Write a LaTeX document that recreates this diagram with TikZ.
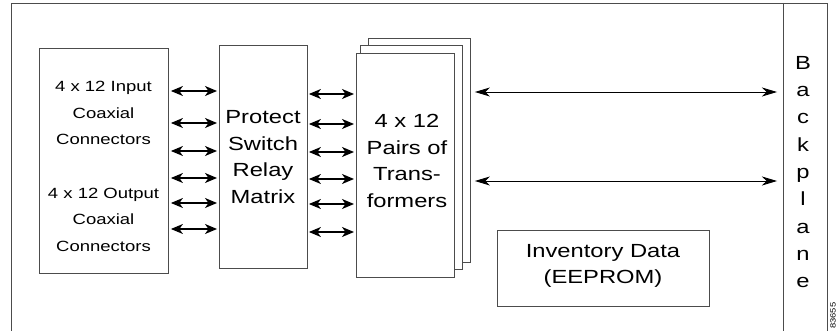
\documentclass[tikz,border=0pt]{standalone}
\usepackage{fontspec}
\setmainfont[FakeStretch=1.25]{Liberation Sans}
\usetikzlibrary{arrows.meta}
\begin{document}
\begin{tikzpicture}[x=1pt,y=-1pt,
  box/.style={draw=black!70,line width=0.9pt,inner sep=0pt,anchor=north west},
  frameline/.style={draw=black!70,line width=0.9pt},
  biarrow/.style={line width=1.2pt,{Stealth[length=12pt,width=10pt,inset=3.5pt]}-{Stealth[length=12pt,width=10pt,inset=3.5pt]}},
  longarrow/.style={line width=0.9pt,{Stealth[length=15pt,width=9pt,inset=4.5pt]}-{Stealth[length=15pt,width=9pt,inset=4.5pt]}},
  smalltxt/.style={font=\fontsize{14.8}{26.5}\selectfont,align=center,inner sep=0pt},
  bigtxt/.style={font=\fontsize{19}{26.5}\selectfont,align=center,inner sep=0pt}]
\useasboundingbox (0,0) rectangle (837,331);

% enclosing card outline and backplane strip
\draw[frameline] (11,335) -- (11,3) -- (827,3) -- (827,335);
\draw[frameline] (783,3) -- (783,335);

% connector block
\node[box,minimum width=129pt,minimum height=225pt] (conn) at (39,48) {};
\node[smalltxt] (inlbl) at (103.5,113) {4 x 12 Input\\Coaxial\\Connectors};
\node[smalltxt] (outlbl) at (103.5,219.5) {4 x 12 Output\\Coaxial\\Connectors};

% relay matrix
\node[box,minimum width=88pt,minimum height=223pt] (relay) at (219,45) {};
\node[bigtxt] (relaylbl) at (263,157) {Protect\\Switch\\Relay\\Matrix};

% stacked transformer cards
\node[box,fill=white,minimum width=102pt,minimum height=224pt] (tr3) at (368,38) {};
\node[box,fill=white,minimum width=102pt,minimum height=224pt] (tr2) at (360,45) {};
\node[box,fill=white,minimum width=98pt,minimum height=224pt] (tr1) at (356,53) {};
\node[bigtxt] (trlbl) at (407,161) {4 x 12\\Pairs of\\Trans-\\formers};

% inventory memory
\node[box,minimum width=212pt,minimum height=76pt] (inv) at (497,230) {};
\node[bigtxt] (invlbl) at (603,266) {Inventory Data\\(EEPROM)};

% backplane label
\node[bigtxt,font=\fontsize{19}{27.3}\selectfont] (bp) at (803,172) {B\\a\\c\\k\\p\\l\\a\\n\\e};
\coordinate (bpedge) at (783,0);

% connector <-> relay links
\foreach \y in {91,123,151,178,203,229}
  \draw[biarrow] ([xshift=2pt]conn.east |- 0,\y) -- ([xshift=-2pt]relay.west |- 0,\y);

% relay <-> transformer links
\foreach \y in {94,124,152,179,204,232}
  \draw[biarrow] ([xshift=1pt]relay.east |- 0,\y) -- ([xshift=-2pt]tr1.west |- 0,\y);

% transformer <-> backplane links
\foreach \y in {92,181}
  \draw[longarrow] ([xshift=4pt]tr3.east |- 0,\y) -- ([xshift=-6pt]bpedge |- 0,\y);

% figure number
\node[font=\fontsize{7.5}{7.5}\selectfont,rotate=90,anchor=south west,inner sep=0pt] (fig) at (836,329) {83655};
\end{tikzpicture}
\end{document}
